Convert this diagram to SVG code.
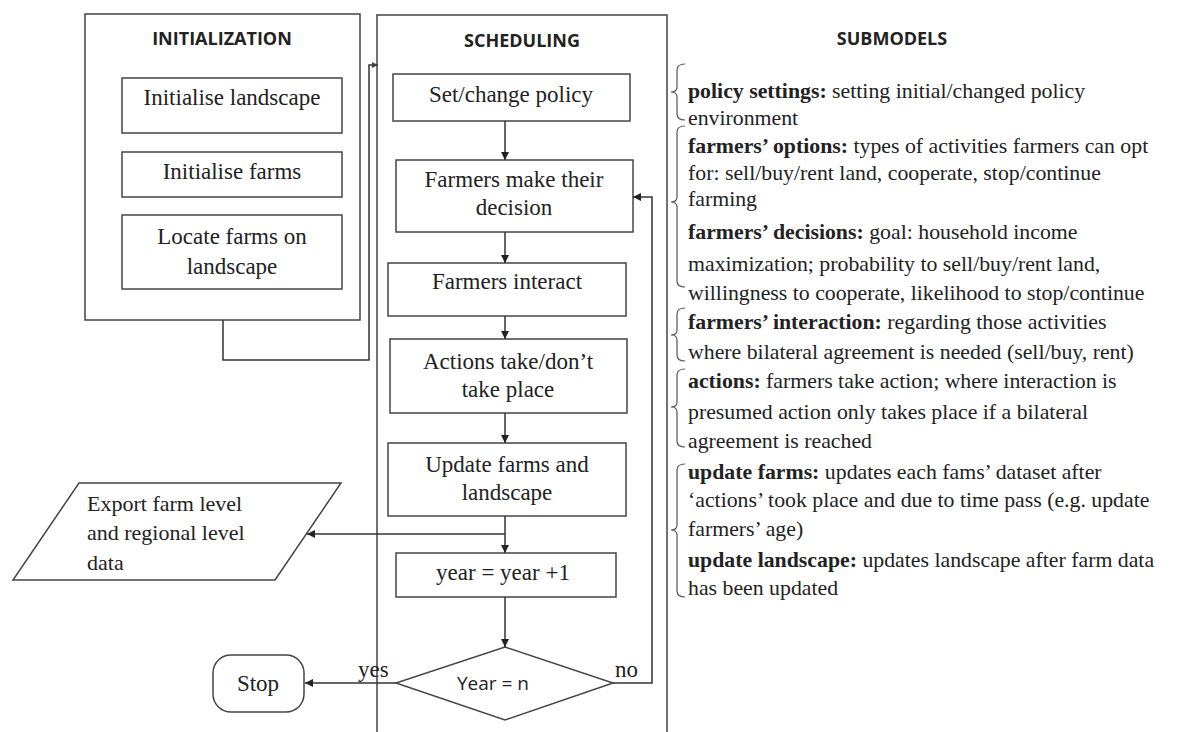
<svg xmlns="http://www.w3.org/2000/svg" width="1178" height="732" viewBox="0 0 1178 732">
<style>
.bx{fill:#fff;stroke:#444;stroke-width:1.5}
.fr{fill:none;stroke:#444;stroke-width:1.5}
.ln{fill:none;stroke:#333;stroke-width:1.5}
.br{fill:none;stroke:#555;stroke-width:1.2}
.t{font-family:"Liberation Serif","Times New Roman",serif;font-size:23px;fill:#222;text-anchor:middle}
.tl{font-family:"Liberation Serif","Times New Roman",serif;font-size:22px;fill:#222}
.h{font-family:"Open Sans","Liberation Sans",sans-serif;font-size:18px;font-weight:bold;fill:#222;text-anchor:middle}
.s{font-family:"Liberation Serif","Times New Roman",serif;font-size:21.8px;fill:#222}
.b{font-weight:bold}
.d{font-family:"Open Sans","Liberation Sans",sans-serif;font-size:19px;fill:#222;text-anchor:middle}
</style>
<defs>
<marker id="ah" viewBox="0 0 10 10" refX="10" refY="5" markerWidth="8" markerHeight="8" markerUnits="userSpaceOnUse" orient="auto">
<path d="M0,0 L10,5 L0,10 z" fill="#222"/>
</marker>
<marker id="ahs" viewBox="0 0 10 10" refX="10" refY="5" markerWidth="6" markerHeight="6" markerUnits="userSpaceOnUse" orient="auto">
<path d="M0,0 L10,5 L0,10 z" fill="#444"/>
</marker>
</defs>
<rect width="1178" height="732" fill="#fff"/>

<g id="initialization">
<rect class="fr" x="85" y="14" width="275" height="306"/>
<text class="h" x="222" y="45">INITIALIZATION</text>
</g>
<g id="scheduling">
<path class="fr" d="M377,732 V15 H667 V732"/>
<text class="h" x="522" y="47">SCHEDULING</text>
</g>
<g id="submodels-title">
<text class="h" x="892" y="45">SUBMODELS</text>
</g>

<g id="init-landscape">
<rect class="bx" x="122" y="78" width="220" height="55"/>
<text class="t" x="232" y="105">Initialise landscape</text>
</g>
<g id="init-farms">
<rect class="bx" x="122" y="152" width="220" height="45"/>
<text class="t" x="232" y="179">Initialise farms</text>
</g>
<g id="locate-farms">
<rect class="bx" x="122" y="215" width="220" height="74"/>
<text class="t" x="232" y="244">Locate farms on</text>
<text class="t" x="232" y="274">landscape</text>
</g>

<g id="set-policy">
<rect class="bx" x="393" y="74" width="237" height="47"/>
<text class="t" x="511" y="102">Set/change policy</text>
</g>
<g id="farmers-decision">
<rect class="bx" x="396" y="160" width="237" height="72"/>
<text class="t" x="514" y="187">Farmers make their</text>
<text class="t" x="514" y="215">decision</text>
</g>
<g id="farmers-interact">
<rect class="bx" x="388" y="263" width="238" height="53"/>
<text class="t" x="507" y="289">Farmers interact</text>
</g>
<g id="actions">
<rect class="bx" x="390" y="339" width="237" height="74"/>
<text class="t" x="508" y="369">Actions take/don’t</text>
<text class="t" x="508" y="397">take place</text>
</g>
<g id="update">
<rect class="bx" x="388" y="443" width="238" height="73"/>
<text class="t" x="507" y="472">Update farms and</text>
<text class="t" x="507" y="500">landscape</text>
</g>
<g id="year-inc">
<rect class="bx" x="396" y="553" width="220" height="44"/>
<text class="t" x="503" y="580">year = year +1</text>
</g>
<g id="decision">
<path class="bx" d="M505,647 L613,683 L505,720 L396,683 Z"/>
<text class="d" x="493" y="690">Year = n</text>
</g>
<g id="stop">
<rect class="bx" x="213" y="655" width="91" height="57" rx="18"/>
<text class="t" x="258" y="691">Stop</text>
</g>
<g id="export">
<path class="bx" d="M79,483 L341,483 L275,580 L13,580 Z"/>
<text class="tl" x="87" y="511">Export farm level</text>
<text class="tl" x="87" y="540">and regional level</text>
<text class="tl" x="87" y="570">data</text>
</g>

<g id="connectors">
<path class="ln" d="M223,320 V360 H369 V65 H378" marker-end="url(#ahs)"/>
<path class="ln" d="M505,121 V160" marker-end="url(#ah)"/>
<path class="ln" d="M505,232 V263" marker-end="url(#ah)"/>
<path class="ln" d="M505,316 V339" marker-end="url(#ah)"/>
<path class="ln" d="M505,413 V443" marker-end="url(#ah)"/>
<path class="ln" d="M505,516 V553" marker-end="url(#ah)"/>
<path class="ln" d="M505,534 H307" marker-end="url(#ah)"/>
<path class="ln" d="M505,597 V647" marker-end="url(#ah)"/>
<path class="ln" d="M613,683 H652 V197 H633" marker-end="url(#ah)"/>
<path class="ln" d="M396,683 H305" marker-end="url(#ah)"/>
<text class="tl" x="358" y="677" style="font-size:23px">yes</text>
<text class="tl" x="615" y="677" style="font-size:23px">no</text>
</g>

<g id="submodels">
<path class="br" d="M685,64 Q677,64 677,70 L677,87 Q677,92 671,92 Q677,92 677,97 L677,114 Q677,120 685,120"/>
<path class="br" d="M685,126 Q677,126 677,132 L677,197 Q677,202 671,202 Q677,202 677,207 L677,281 Q677,287 685,287"/>
<path class="br" d="M685,308 Q677,308 677,314 L677,330 Q677,335 671,335 Q677,335 677,340 L677,355 Q677,361 685,361"/>
<path class="br" d="M685,369 Q677,369 677,375 L677,402 Q677,407 671,407 Q677,407 677,412 L677,441 Q677,447 685,447"/>
<path class="br" d="M685,464 Q677,464 677,470 L677,525 Q677,530 671,530 Q677,530 677,535 L677,591 Q677,597 685,597"/>
<text class="s" x="688" y="98"><tspan class="b">policy settings:</tspan> setting initial/changed policy</text>
<text class="s" x="688" y="125">environment</text>
<text class="s" x="688" y="153"><tspan class="b">farmers’ options:</tspan> types of activities farmers can opt</text>
<text class="s" x="688" y="180">for: sell/buy/rent land, cooperate, stop/continue</text>
<text class="s" x="688" y="206">farming</text>
<text class="s" x="688" y="239"><tspan class="b">farmers’ decisions:</tspan> goal: household income</text>
<text class="s" x="688" y="271">maximization; probability to sell/buy/rent land,</text>
<text class="s" x="688" y="300">willingness to cooperate, likelihood to stop/continue</text>
<text class="s" x="688" y="329"><tspan class="b">farmers’ interaction:</tspan> regarding those activities</text>
<text class="s" x="688" y="359">where bilateral agreement is needed (sell/buy, rent)</text>
<text class="s" x="688" y="388"><tspan class="b">actions:</tspan> farmers take action; where interaction is</text>
<text class="s" x="688" y="419">presumed action only takes place if a bilateral</text>
<text class="s" x="688" y="448">agreement is reached</text>
<text class="s" x="688" y="479"><tspan class="b">update farms:</tspan> updates each fams’ dataset after</text>
<text class="s" x="688" y="507">‘actions’ took place and due to time pass (e.g. update</text>
<text class="s" x="688" y="536">farmers’ age)</text>
<text class="s" x="688" y="567"><tspan class="b">update landscape:</tspan> updates landscape after farm data</text>
<text class="s" x="688" y="595">has been updated</text>
</g>
</svg>
